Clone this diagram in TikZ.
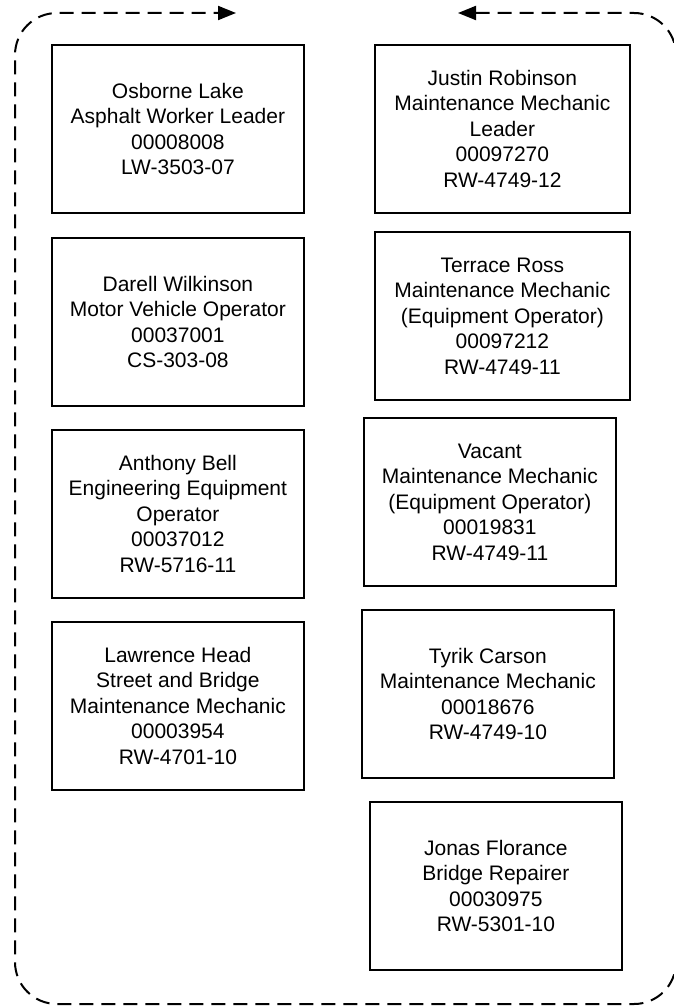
\documentclass[tikz,border=0pt]{standalone}
\usepackage{fontspec}
\setmainfont{Liberation Sans}
\usepackage{tikz}
\usetikzlibrary{arrows.meta, positioning}

\begin{document}
\begin{tikzpicture}[
  x=1pt, y=-1pt,
  post/.style={rectangle, draw=black, line width=1.8pt, anchor=north west,
    font=\fontsize{21pt}{25.5pt}\selectfont, align=center, inner sep=2pt,
    minimum width=#1, minimum height=168pt},
  post/.default=252pt,
  loopline/.style={line width=2pt, dash pattern=on 14pt off 8pt,
    rounded corners=42pt, {Triangle[length=18pt,width=14pt]}-{Triangle[length=18pt,width=14pt]}},
]
\useasboundingbox (0,0) rectangle (674,1006);

%% -- Left column -----------------------------------------------------
\node[post] (osborne)  at (51,44)  {Osborne Lake\\Asphalt Worker Leader\\00008008\\LW-3503-07};
\node[post] (darell)   at (51,237) {Darell Wilkinson\\Motor Vehicle Operator\\00037001\\CS-303-08};
\node[post] (anthony)  at (51,429) {Anthony Bell\\Engineering Equipment\\Operator\\00037012\\RW-5716-11};
\node[post] (lawrence) at (51,621) {Lawrence Head\\Street and Bridge\\Maintenance Mechanic\\00003954\\RW-4701-10};

%% -- Right column ----------------------------------------------------
\node[post=255pt] (justin)  at (374,44)  {Justin Robinson\\Maintenance Mechanic\\Leader\\00097270\\RW-4749-12};
\node[post=255pt] (terrace) at (374,231) {Terrace Ross\\Maintenance Mechanic\\(Equipment Operator)\\00097212\\RW-4749-11};
\node[post] (vacant) at (363,417) {Vacant\\Maintenance Mechanic\\(Equipment Operator)\\00019831\\RW-4749-11};
\node[post] (tyrik)  at (361,609) {Tyrik Carson\\Maintenance Mechanic\\00018676\\RW-4749-10};
\node[post] (jonas)  at (369,801) {Jonas Florance\\Bridge Repairer\\00030975\\RW-5301-10};

%% -- Rotation loop ---------------------------------------------------
\coordinate (loopL) at (236,13);
\coordinate (loopR) at (458,13);
\draw[loopline] (loopR) -- (676,13) -- (676,1004) -- (15,1004) -- (15,13) -- (loopL);

\end{tikzpicture}
\end{document}
